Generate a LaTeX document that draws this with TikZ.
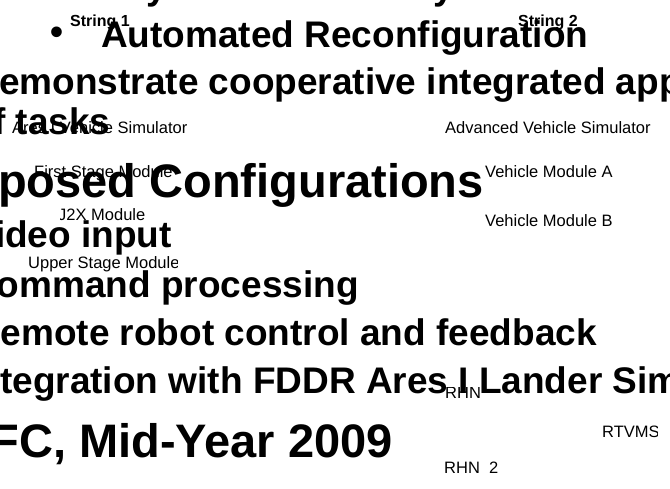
\documentclass[tikz,border=0pt]{standalone}
\usepackage{fontspec}
\setmainfont{Liberation Sans}
\begin{document}
\begin{tikzpicture}[x=1pt,y=-1pt,
  big/.style={inner sep=0pt,font=\fontsize{37}{37}\selectfont\bfseries},
  huge/.style={inner sep=0pt,font=\fontsize{47}{47}\selectfont\bfseries},
  lbl/.style={inner sep=0pt,anchor=base west,font=\fontsize{16.5}{16.5}\selectfont},
  strlbl/.style={inner sep=0pt,anchor=base west,font=\fontsize{16}{16}\selectfont\bfseries}]
\path[use as bounding box,clip] (0,0) rectangle (670,488);
\fill[white] (0,0) rectangle (670,488);

% tails of the line above the visible area
\node[big,anchor=base west] (ytail1) at (146,-1) {y};
\node[big,anchor=base west] (ytail2) at (433,-1) {y};

% bullet text, set in large bold type
\node[big,anchor=base west] (bullet) at (50,44) {•};
\node[big,anchor=base west] (l1) at (101,47) {Automated Reconfiguration};
\node[big,anchor=base west] (l2) at (-1,94) {emonstrate cooperative integrated app};
\node[big,anchor=base west] (l3) at (-7,134) {f tasks};
\node[huge,anchor=base east] (l4) at (484,197) {posed Configurations};
\node[big,anchor=base east] (l5) at (172,247) {ideo input};
\node[big,anchor=base east] (l6) at (359,297) {ommand processing};
\node[big,anchor=base east] (l7) at (597,345) {emote robot control and feedback};
\node[big,anchor=base west] (l8) at (0,393) {tegration with FDDR Ares I Lander Sim};
\node[huge,anchor=base east] (l9) at (393,457) {FC, Mid-Year 2009};

% string labels
\node[strlbl] (s1) at (70,26) {String 1};
\node[strlbl] (s2) at (518,26) {String 2};

% simulator and module labels
\node[lbl] (aresim) at (12,133) {Ares I Vehicle Simulator};
\node[lbl] (advsim) at (445,133) {Advanced Vehicle Simulator};
\node[lbl] (fsm) at (34,177) {First Stage Module};
\node[lbl] (vma) at (485,177) {Vehicle Module A};
\begin{scope}
  \clip (60,200) rectangle (200,230);
  \node[lbl] (j2x) at (58,220) {J2X Module};
\end{scope}
\node[lbl] (vmb) at (485,226) {Vehicle Module B};
\begin{scope}
  \clip (0,250) rectangle (177,275);
  \node[lbl] (usm) at (28,268) {Upper Stage Module};
\end{scope}
\begin{scope}
  \clip (430,387) rectangle (500,405);
  \node[lbl] (rhn1) at (445,398) {RHN};
\end{scope}
\begin{scope}
  \clip (590,420) rectangle (657,445);
  \node[lbl] (rtvms) at (602,437) {RTVMS};
\end{scope}
\node[lbl] (rhn2) at (444,473) {RHN\ \ 2};
\end{tikzpicture}
\end{document}
